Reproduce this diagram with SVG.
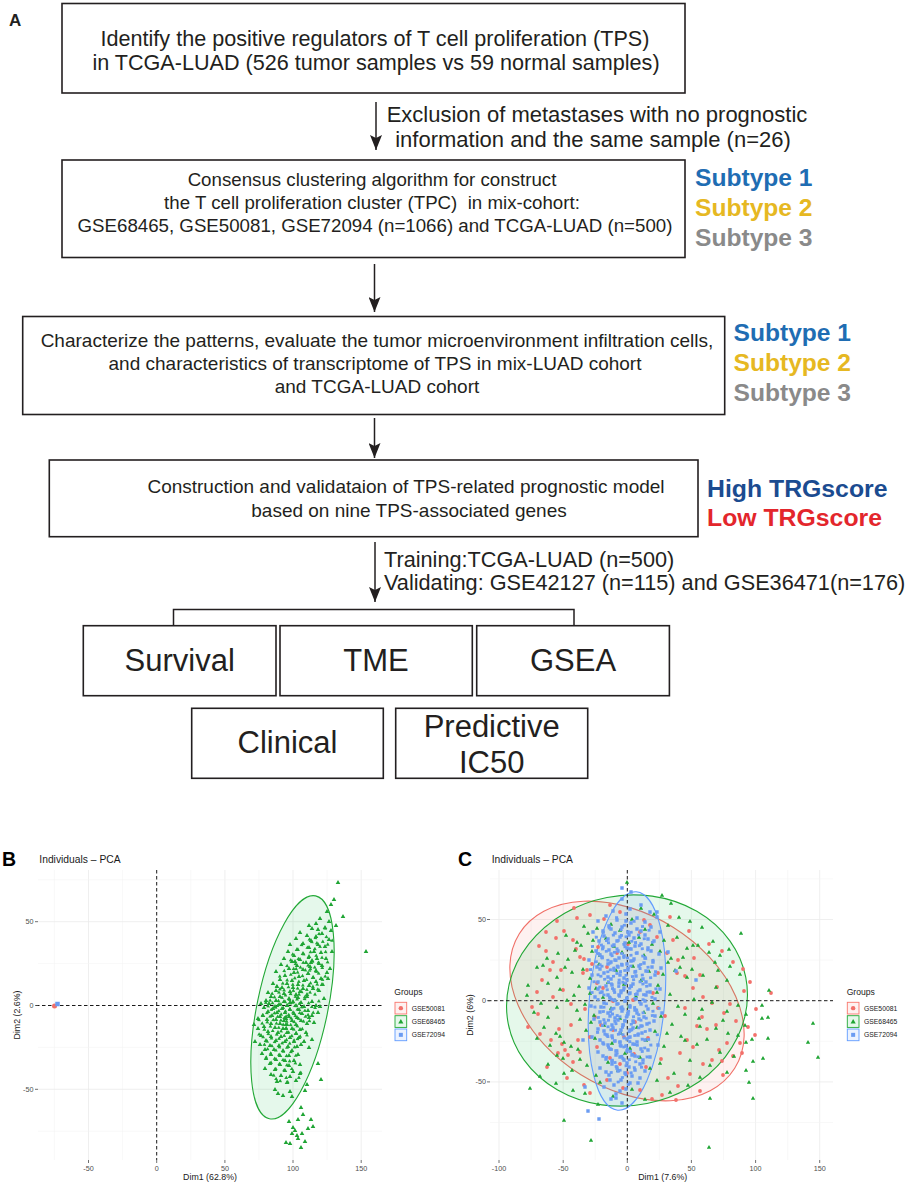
<svg xmlns="http://www.w3.org/2000/svg" xmlns:xlink="http://www.w3.org/1999/xlink" width="913" height="1183" viewBox="0 0 913 1183">
<defs>
<marker id="ah" viewBox="0 0 15 12" refX="15" refY="6" markerWidth="15" markerHeight="12" markerUnits="userSpaceOnUse" orient="auto"><path d="M0 0L15 6L0 12L3 6z" fill="#231f20"/></marker>
</defs>
<style>
.box{fill:#fff;stroke:#231f20;stroke-width:1.6}
.t{font-family:"Liberation Sans",Arial,sans-serif;fill:#231f20}
.b{font-weight:bold}
.conn{fill:none;stroke:#231f20;stroke-width:1.5}
.gM{stroke:#ebebeb;stroke-width:.8}
.gm{stroke:#f3f3f3;stroke-width:.6}
.dash{fill:none;stroke:#1a1a1a;stroke-width:1;stroke-dasharray:3.5 2.5}
.tk{font-family:"Liberation Sans",Arial,sans-serif;font-size:7.2px;fill:#4d4d4d}
.ax{font-family:"Liberation Sans",Arial,sans-serif;font-size:8.8px;fill:#1a1a1a}
.ttl{font-family:"Liberation Sans",Arial,sans-serif;font-size:10.3px;fill:#1a1a1a}
.lg{font-family:"Liberation Sans",Arial,sans-serif;font-size:6.8px;fill:#1a1a1a}
.tm{stroke:#4d4d4d;stroke-width:.8}
.tg{fill:#1fa534}
.pr{fill:none;stroke:#f2706a;stroke-width:3.8;stroke-linecap:round}
.pb{fill:none;stroke:#6b9cf2;stroke-width:3.4;stroke-linecap:square}
</style>
<rect width="913" height="1183" fill="#fff"/>

<!-- Panel A -->
<text class="t b" x="9" y="26" font-size="17">A</text>

<g id="connectors">
<line class="conn" x1="376" y1="102" x2="376" y2="150" marker-end="url(#ah)"/>
<line class="conn" x1="374.5" y1="264" x2="374.5" y2="312" marker-end="url(#ah)"/>
<line class="conn" x1="374.5" y1="418" x2="374.5" y2="458" marker-end="url(#ah)"/>
<line class="conn" x1="375" y1="542" x2="375" y2="602" marker-end="url(#ah)"/>
<path class="conn" d="M173.5 626V609.5H574V626"/>
<text class="t" font-size="22" text-anchor="middle"><tspan x="597" y="122">Exclusion of metastases with no prognostic</tspan><tspan x="593" y="147">information and the same sample (n=26)</tspan></text>
<text class="t" font-size="21.7"><tspan x="384" y="567">Training:TCGA-LUAD (n=500)</tspan><tspan x="384" y="590">Validating: GSE42127 (n=115) and GSE36471(n=176)</tspan></text>
</g>

<g id="n1">
<rect class="box" x="62" y="3.5" width="623" height="89.5"/>
<text class="t" font-size="21.6" text-anchor="middle"><tspan x="375" y="46">Identify the positive regulators of T cell proliferation (TPS)</tspan><tspan x="376" y="69.5">in TCGA-LUAD (526 tumor samples vs 59 normal samples)</tspan></text>
</g>

<g id="n2">
<rect class="box" x="62" y="160" width="623" height="97.5"/>
<text class="t" font-size="18.7" text-anchor="middle" style="white-space:pre"><tspan x="372" y="186">Consensus clustering algorithm for construct</tspan><tspan x="372" y="209">the T cell proliferation cluster (TPC)  in mix-cohort:</tspan><tspan x="375" y="232">GSE68465, GSE50081, GSE72094 (n=1066) and TCGA-LUAD (n=500)</tspan></text>
</g>

<g id="subtypes1">
<text class="t b" font-size="24.6" x="695" y="186" style="fill:#1f6db3">Subtype 1</text>
<text class="t b" font-size="24.6" x="695" y="216" style="fill:#e6b822">Subtype 2</text>
<text class="t b" font-size="24.6" x="695" y="246" style="fill:#8a8a8a">Subtype 3</text>
</g>

<g id="n3">
<rect class="box" x="22.7" y="316.5" width="702" height="98"/>
<text class="t" font-size="19" text-anchor="middle"><tspan x="377" y="347">Characterize the patterns, evaluate the tumor microenvironment infiltration cells,</tspan><tspan x="375" y="370">and characteristics of transcriptome of TPS in mix-LUAD cohort</tspan><tspan x="377" y="393">and TCGA-LUAD cohort</tspan></text>
</g>

<g id="subtypes2">
<text class="t b" font-size="24.6" x="733.5" y="341" style="fill:#1f6db3">Subtype 1</text>
<text class="t b" font-size="24.6" x="733.5" y="371" style="fill:#e6b822">Subtype 2</text>
<text class="t b" font-size="24.6" x="733.5" y="401" style="fill:#8a8a8a">Subtype 3</text>
</g>

<g id="n4">
<rect class="box" x="49.3" y="460" width="648.7" height="76.7"/>
<text class="t" font-size="19" text-anchor="middle"><tspan x="406" y="493.3">Construction and validataion of TPS-related prognostic model</tspan><tspan x="409" y="516.7">based on nine TPS-associated genes</tspan></text>
</g>

<g id="scores">
<text class="t b" font-size="24.8" x="707" y="497" style="fill:#1b4b90">High TRGscore</text>
<text class="t b" font-size="24.8" x="707" y="526" style="fill:#e3262c">Low TRGscore</text>
</g>

<g id="n5"><rect class="box" x="83.3" y="625.7" width="192.7" height="70"/><text class="t" font-size="31" text-anchor="middle" x="179.7" y="671">Survival</text></g>
<g id="n6"><rect class="box" x="280" y="625.7" width="192.3" height="70"/><text class="t" font-size="31" text-anchor="middle" x="376" y="671">TME</text></g>
<g id="n7"><rect class="box" x="476.7" y="625.7" width="192.7" height="70"/><text class="t" font-size="31" text-anchor="middle" x="573" y="671">GSEA</text></g>
<g id="n8"><rect class="box" x="191.7" y="708.3" width="191.6" height="70"/><text class="t" font-size="31" text-anchor="middle" x="287.5" y="753">Clinical</text></g>
<g id="n9"><rect class="box" x="395.7" y="708.3" width="192" height="70"/><text class="t" font-size="31" text-anchor="middle"><tspan x="491.7" y="737">Predictive</tspan><tspan x="491.7" y="773">IC50</tspan></text></g>

<!-- Panel B -->
<g id="panelB">
<text class="t b" x="2" y="866" font-size="19.5" style="fill:#000">B</text>
<text class="ttl" x="39.3" y="862.7">Individuals – PCA</text>
<g>
<line class="gm" x1="54.4" y1="870" x2="54.4" y2="1160"/><line class="gM" x1="88.5" y1="870" x2="88.5" y2="1160"/><line class="gm" x1="122.6" y1="870" x2="122.6" y2="1160"/><line class="gm" x1="190.8" y1="870" x2="190.8" y2="1160"/><line class="gM" x1="224.9" y1="870" x2="224.9" y2="1160"/><line class="gm" x1="259" y1="870" x2="259" y2="1160"/><line class="gM" x1="293" y1="870" x2="293" y2="1160"/><line class="gm" x1="327.1" y1="870" x2="327.1" y2="1160"/><line class="gM" x1="361.2" y1="870" x2="361.2" y2="1160"/>
<line class="gm" x1="38" y1="879.8" x2="382" y2="879.8"/><line class="gM" x1="38" y1="921.7" x2="382" y2="921.7"/><line class="gm" x1="38" y1="963.6" x2="382" y2="963.6"/><line class="gm" x1="38" y1="1047.4" x2="382" y2="1047.4"/><line class="gM" x1="38" y1="1089.3" x2="382" y2="1089.3"/><line class="gm" x1="38" y1="1131.2" x2="382" y2="1131.2"/>
</g>
<ellipse cx="292.5" cy="1007.3" rx="35.4" ry="113.8" transform="rotate(11.7 292.5 1007.3)" fill="#00ba38" fill-opacity=".1" stroke="#22a836" stroke-width="1.1"/>
<line class="dash" x1="156.7" y1="870" x2="156.7" y2="1160"/>
<line class="dash" x1="36" y1="1005.5" x2="382" y2="1005.5"/>
<path class="tg" d="M338 880l2.3 4h-4.6zM334 897l2.3 4h-4.6zM331 902l2.3 4h-4.6zM343 914l2.3 4h-4.6zM366 949l2.3 4h-4.6zM321 1077l2.3 4h-4.6zM318 1061l2.3 4h-4.6z"/>
<path id="bt" class="tg" d="M327 909l2.3 4h-4.6zM320 916l2.3 4h-4.6zM316 921l2.3 4h-4.6zM329 919l2.3 4h-4.6zM312 926l2.3 4h-4.6zM325 925l2.3 4h-4.6zM336 923l2.3 4h-4.6zM309 923l2.3 4h-4.6zM331 928l2.3 4h-4.6zM318 927l2.3 4h-4.6zM300 930l2.3 4h-4.6zM307 933l2.3 4h-4.6zM316 934l2.3 4h-4.6zM322 931l2.3 4h-4.6zM296 936l2.3 4h-4.6zM311 938l2.3 4h-4.6zM329 937l2.3 4h-4.6zM303 941l2.3 4h-4.6zM290 942l2.3 4h-4.6zM318 942l2.3 4h-4.6zM325 944l2.3 4h-4.6zM309 945l2.3 4h-4.6zM297 947l2.3 4h-4.6zM314 949l2.3 4h-4.6zM288 949l2.3 4h-4.6zM303 951l2.3 4h-4.6zM321 950l2.3 4h-4.6zM332 949l2.3 4h-4.6zM294 953l2.3 4h-4.6zM309 954l2.3 4h-4.6zM317 956l2.3 4h-4.6zM284 956l2.3 4h-4.6zM300 957l2.3 4h-4.6zM326 956l2.3 4h-4.6zM312 958l2.3 4h-4.6zM292 959l2.3 4h-4.6zM306 960l2.3 4h-4.6zM319 961l2.3 4h-4.6zM281 962l2.3 4h-4.6zM297 963l2.3 4h-4.6zM310 964l2.3 4h-4.6zM322 963l2.3 4h-4.6zM289 966l2.3 4h-4.6zM303 967l2.3 4h-4.6zM316 968l2.3 4h-4.6zM276 969l2.3 4h-4.6zM294 970l2.3 4h-4.6zM308 971l2.3 4h-4.6zM327 970l2.3 4h-4.6zM285 973l2.3 4h-4.6zM299 974l2.3 4h-4.6zM313 975l2.3 4h-4.6zM321 976l2.3 4h-4.6zM280 977l2.3 4h-4.6zM292 978l2.3 4h-4.6zM304 978l2.3 4h-4.6zM316 979l2.3 4h-4.6zM273 981l2.3 4h-4.6zM287 981l2.3 4h-4.6zM298 982l2.3 4h-4.6zM309 983l2.3 4h-4.6zM322 982l2.3 4h-4.6zM282 985l2.3 4h-4.6zM293 985l2.3 4h-4.6zM303 986l2.3 4h-4.6zM313 986l2.3 4h-4.6zM276 988l2.3 4h-4.6zM290 989l2.3 4h-4.6zM300 989l2.3 4h-4.6zM319 988l2.3 4h-4.6zM284 991l2.3 4h-4.6zM296 992l2.3 4h-4.6zM307 992l2.3 4h-4.6zM328 976l2.3 4h-4.6zM330 966l2.3 4h-4.6zM311 960l2.3 4h-4.6zM295 959l2.3 4h-4.6zM277 984l2.3 4h-4.6zM268 990l2.3 4h-4.6zM271 994l2.3 4h-4.6zM280 994l2.3 4h-4.6zM289 996l2.3 4h-4.6zM298 995l2.3 4h-4.6zM307 994l2.3 4h-4.6zM266 998l2.3 4h-4.6zM276 998l2.3 4h-4.6zM284 999l2.3 4h-4.6zM293 999l2.3 4h-4.6zM301 1000l2.3 4h-4.6zM312 999l2.3 4h-4.6zM269 1001l2.3 4h-4.6zM279 1002l2.3 4h-4.6zM287 1003l2.3 4h-4.6zM296 1003l2.3 4h-4.6zM304 1004l2.3 4h-4.6zM316 1003l2.3 4h-4.6zM264 1005l2.3 4h-4.6zM273 1006l2.3 4h-4.6zM282 1006l2.3 4h-4.6zM290 1007l2.3 4h-4.6zM299 1007l2.3 4h-4.6zM308 1008l2.3 4h-4.6zM268 1009l2.3 4h-4.6zM277 1010l2.3 4h-4.6zM285 1010l2.3 4h-4.6zM294 1011l2.3 4h-4.6zM302 1011l2.3 4h-4.6zM263 1013l2.3 4h-4.6zM272 1013l2.3 4h-4.6zM280 1014l2.3 4h-4.6zM289 1014l2.3 4h-4.6zM297 1015l2.3 4h-4.6zM312 1013l2.3 4h-4.6zM267 1017l2.3 4h-4.6zM276 1017l2.3 4h-4.6zM284 1018l2.3 4h-4.6zM292 1018l2.3 4h-4.6zM301 1018l2.3 4h-4.6zM320 1004l2.3 4h-4.6zM324 996l2.3 4h-4.6zM261 1001l2.3 4h-4.6zM271 1021l2.3 4h-4.6zM280 1021l2.3 4h-4.6zM287 1022l2.3 4h-4.6zM296 1022l2.3 4h-4.6zM307 1021l2.3 4h-4.6zM314 1020l2.3 4h-4.6zM309 1015l2.3 4h-4.6zM318 1010l2.3 4h-4.6zM290 1000l2.3 4h-4.6zM275 1004l2.3 4h-4.6zM286 1016l2.3 4h-4.6zM258 1016l2.3 4h-4.6zM254 1022l2.3 4h-4.6zM264 1024l2.3 4h-4.6zM275 1025l2.3 4h-4.6zM283 1026l2.3 4h-4.6zM292 1026l2.3 4h-4.6zM300 1027l2.3 4h-4.6zM268 1029l2.3 4h-4.6zM278 1030l2.3 4h-4.6zM287 1030l2.3 4h-4.6zM296 1031l2.3 4h-4.6zM306 1030l2.3 4h-4.6zM261 1033l2.3 4h-4.6zM271 1034l2.3 4h-4.6zM281 1034l2.3 4h-4.6zM290 1035l2.3 4h-4.6zM299 1035l2.3 4h-4.6zM266 1038l2.3 4h-4.6zM276 1038l2.3 4h-4.6zM285 1039l2.3 4h-4.6zM294 1039l2.3 4h-4.6zM304 1039l2.3 4h-4.6zM260 1042l2.3 4h-4.6zM270 1043l2.3 4h-4.6zM279 1043l2.3 4h-4.6zM288 1044l2.3 4h-4.6zM297 1044l2.3 4h-4.6zM265 1047l2.3 4h-4.6zM274 1047l2.3 4h-4.6zM283 1048l2.3 4h-4.6zM292 1048l2.3 4h-4.6zM309 1045l2.3 4h-4.6zM312 1037l2.3 4h-4.6zM258 1026l2.3 4h-4.6zM301 1042l2.3 4h-4.6zM286 1026l2.3 4h-4.6zM255 1039l2.3 4h-4.6zM262 1051l2.3 4h-4.6zM271 1052l2.3 4h-4.6zM280 1053l2.3 4h-4.6zM289 1053l2.3 4h-4.6zM298 1052l2.3 4h-4.6zM266 1056l2.3 4h-4.6zM276 1057l2.3 4h-4.6zM285 1058l2.3 4h-4.6zM294 1058l2.3 4h-4.6zM270 1061l2.3 4h-4.6zM280 1062l2.3 4h-4.6zM289 1063l2.3 4h-4.6zM300 1062l2.3 4h-4.6zM265 1066l2.3 4h-4.6zM275 1067l2.3 4h-4.6zM285 1068l2.3 4h-4.6zM293 1069l2.3 4h-4.6zM271 1072l2.3 4h-4.6zM281 1073l2.3 4h-4.6zM290 1074l2.3 4h-4.6zM300 1071l2.3 4h-4.6zM277 1079l2.3 4h-4.6zM287 1080l2.3 4h-4.6zM296 1078l2.3 4h-4.6zM275 1087l2.3 4h-4.6zM290 1089l2.3 4h-4.6zM305 1088l2.3 4h-4.6zM307 1082l2.3 4h-4.6zM292 1094l2.3 4h-4.6zM283 1093l2.3 4h-4.6zM278 1091l2.3 4h-4.6z"/>
<use xlink:href="#bt" href="#bt" transform="translate(290 1006) rotate(3) scale(.84) translate(-290 -1006)"/>
<path class="tg" d="M301 1105l2.3 4h-4.6zM303 1112l2.3 4h-4.6zM298 1117l2.3 4h-4.6zM311 1117l2.3 4h-4.6zM313 1124l2.3 4h-4.6zM293 1125l2.3 4h-4.6zM295 1128l2.3 4h-4.6zM292 1131l2.3 4h-4.6zM297 1133l2.3 4h-4.6zM302 1131l2.3 4h-4.6zM298 1136l2.3 4h-4.6zM286 1140l2.3 4h-4.6zM301 1145l2.3 4h-4.6zM308 1126l2.3 4h-4.6zM290 1141l2.3 4h-4.6zM305 1139l2.3 4h-4.6zM289 1119l2.3 4h-4.6z"/>
<path class="pr" d="M54.5 1006h0" style="stroke-width:5"/>
<path class="pb" d="M57.5 1004h0" style="stroke-width:4.5"/>
<g class="tk" text-anchor="end"><text x="33.5" y="924.2">50</text><text x="33.5" y="1008">0</text><text x="33.5" y="1091.8">-50</text></g>
<line class="tm" x1="35" y1="921.7" x2="38" y2="921.7"/><line class="tm" x1="35" y1="1005.5" x2="38" y2="1005.5"/><line class="tm" x1="35" y1="1089.3" x2="38" y2="1089.3"/>
<line class="tm" x1="88.5" y1="1160" x2="88.5" y2="1163"/><line class="tm" x1="156.7" y1="1160" x2="156.7" y2="1163"/><line class="tm" x1="224.9" y1="1160" x2="224.9" y2="1163"/><line class="tm" x1="293" y1="1160" x2="293" y2="1163"/><line class="tm" x1="361.2" y1="1160" x2="361.2" y2="1163"/>
<g class="tk" text-anchor="middle"><text x="88.5" y="1171">-50</text><text x="156.7" y="1171">0</text><text x="224.9" y="1171">50</text><text x="293" y="1171">100</text><text x="361.2" y="1171">150</text></g>
<text class="ax" x="210" y="1180" text-anchor="middle">Dim1 (62.8%)</text>
<text class="ax" transform="translate(20 1015) rotate(-90)" text-anchor="middle">Dim2 (2.6%)</text>
<g id="legendB">
<text class="ax" x="394.3" y="995" style="font-size:8.6px">Groups</text>
<rect x="395" y="1002.3" width="11.7" height="11.7" fill="#f8766d" fill-opacity=".1" stroke="#f8766d" stroke-width=".9"/>
<rect x="395" y="1015.7" width="11.7" height="11.7" fill="#00ba38" fill-opacity=".1" stroke="#22a836" stroke-width=".9"/>
<rect x="395" y="1029" width="11.7" height="11.7" fill="#619cff" fill-opacity=".12" stroke="#619cff" stroke-width=".9"/>
<circle cx="400.85" cy="1008.15" r="2.2" fill="#f2706a"/>
<path class="tg" d="M400.85 1019l2.6 4.5h-5.2z"/>
<rect x="398.85" y="1032.85" width="4" height="4" fill="#6b9cf2"/>
<text class="lg" x="411.7" y="1010.5">GSE50081</text>
<text class="lg" x="411.7" y="1023.9">GSE68465</text>
<text class="lg" x="411.7" y="1037.2">GSE72094</text>
</g>
</g>

<!-- Panel C -->
<g id="panelC">
<text class="t b" x="458" y="866" font-size="19.5" style="fill:#000">C</text>
<text class="ttl" x="491.7" y="862.7">Individuals – PCA</text>
<g>
<line class="gM" x1="499" y1="870" x2="499" y2="1160"/><line class="gm" x1="531.1" y1="870" x2="531.1" y2="1160"/><line class="gM" x1="563.2" y1="870" x2="563.2" y2="1160"/><line class="gm" x1="595.2" y1="870" x2="595.2" y2="1160"/><line class="gm" x1="659.4" y1="870" x2="659.4" y2="1160"/><line class="gM" x1="691.4" y1="870" x2="691.4" y2="1160"/><line class="gm" x1="723.5" y1="870" x2="723.5" y2="1160"/><line class="gM" x1="755.6" y1="870" x2="755.6" y2="1160"/><line class="gm" x1="787.7" y1="870" x2="787.7" y2="1160"/><line class="gM" x1="819.7" y1="870" x2="819.7" y2="1160"/>
<line class="gm" x1="490" y1="878.9" x2="833" y2="878.9"/><line class="gM" x1="490" y1="919.5" x2="833" y2="919.5"/><line class="gm" x1="490" y1="960.1" x2="833" y2="960.1"/><line class="gm" x1="490" y1="1041.3" x2="833" y2="1041.3"/><line class="gM" x1="490" y1="1081.9" x2="833" y2="1081.9"/><line class="gm" x1="490" y1="1122.5" x2="833" y2="1122.5"/>
</g>
<ellipse cx="627" cy="1001" rx="127" ry="87" transform="rotate(32 627 1001)" fill="#f8766d" fill-opacity=".1" stroke="#f07068" stroke-width="1.1"/>
<ellipse cx="627" cy="1000.5" rx="121" ry="105" transform="rotate(-11 627 1000.5)" fill="#00ba38" fill-opacity=".1" stroke="#22a836" stroke-width="1.1"/>
<ellipse cx="627" cy="1001" rx="37.7" ry="109.6" transform="rotate(4.9 627 1001)" fill="#619cff" fill-opacity=".12" stroke="#619cff" stroke-width="1.1"/>
<line class="dash" x1="627.3" y1="870" x2="627.3" y2="1160"/>
<line class="dash" x1="488" y1="1000.7" x2="833" y2="1000.7"/>
<path class="pr" d="M546 932h0M556 938h0M564 931h0M577 918h0M573 940h0M539 946h0M546 951h0M553 962h0M550 970h0M561 970h0M576 949h0M580 957h0M584 959h0M587 970h0M583 973h0M592 964h0M532 1007h0M538 1014h0M540 1034h0M558 1053h0M565 1050h0M568 1055h0M573 1062h0M580 1052h0M584 1085h0M590 1037h0M601 1025h0M613 1030h0M627 1073h0M640 1090h0M652 1099h0M700 1091h0M723 1075h0M733 1056h0M727 1043h0M719 1050h0M707 1029h0M702 1017h0M697 1026h0M687 1040h0M680 1053h0M693 1047h0M685 1008h0M703 997h0M712 1003h0M717 987h0M685 976h0M700 975h0M693 988h0M677 973h0M743 969h0M771 993h0M650 925h0M644 920h0M640 932h0M657 937h0M673 940h0M678 960h0M667 953h0M658 973h0M653 993h0M633 1000h0M613 1001h0M603 988h0M597 983h0M607 967h0M617 953h0M628 944h0M598 947h0M604 919h0M590 915h0M563 990h0M553 997h0M571 1004h0M585 1009h0M595 1017h0M571 1025h0M559 1029h0M551 1040h0M562 1044h0M578 1040h0M597 1047h0M610 1058h0M620 1064h0M634 1054h0M646 1067h0M661 1059h0M668 1078h0M678 1086h0M690 1074h0M703 1064h0M712 1060h0M722 1061h0M740 1043h0M748 1027h0M736 1021h0M724 1013h0M716 1025h0M730 1004h0M744 991h0M756 1009h0M750 982h0M733 962h0M722 951h0M709 944h0M694 958h0M689 931h0M670 917h0M620 912h0M610 905h0M574 908h0M557 921h0M542 980h0M537 992h0M528 1027h0M547 1067h0M567 1078h0M590 1093h0M607 1080h0M623 1088h0M662 1095h0M676 1100h0M742 1053h0M755 1035h0M665 1016h0M648 1038h0M635 1022h0M624 1037h0M658 1008h0"/>
<path class="tg" d="M627 880l2.2 3.8h-4.4zM662 893l2.2 3.8h-4.4zM671 901l2.2 3.8h-4.4zM641 906l2.2 3.8h-4.4zM654 912l2.2 3.8h-4.4zM679 915l2.2 3.8h-4.4zM690 919l2.2 3.8h-4.4zM611 922l2.2 3.8h-4.4zM597 926l2.2 3.8h-4.4zM584 924l2.2 3.8h-4.4zM632 917l2.2 3.8h-4.4zM668 923l2.2 3.8h-4.4zM702 925l2.2 3.8h-4.4zM588 931l2.2 3.8h-4.4zM620 928l2.2 3.8h-4.4zM645 927l2.2 3.8h-4.4zM741 931l2.2 3.8h-4.4zM566 933l2.2 3.8h-4.4zM577 940l2.2 3.8h-4.4zM575 948l2.2 3.8h-4.4zM581 943l2.2 3.8h-4.4zM593 938l2.2 3.8h-4.4zM606 936l2.2 3.8h-4.4zM614 944l2.2 3.8h-4.4zM629 940l2.2 3.8h-4.4zM639 935l2.2 3.8h-4.4zM652 942l2.2 3.8h-4.4zM664 938l2.2 3.8h-4.4zM677 935l2.2 3.8h-4.4zM687 946l2.2 3.8h-4.4zM693 943l2.2 3.8h-4.4zM698 943l2.2 3.8h-4.4zM709 950l2.2 3.8h-4.4zM720 953l2.2 3.8h-4.4zM547 956l2.2 3.8h-4.4zM558 951l2.2 3.8h-4.4zM600 953l2.2 3.8h-4.4zM622 950l2.2 3.8h-4.4zM644 953l2.2 3.8h-4.4zM660 949l2.2 3.8h-4.4zM671 956l2.2 3.8h-4.4zM683 955l2.2 3.8h-4.4zM592 949l2.2 3.8h-4.4zM568 957l2.2 3.8h-4.4zM713 939l2.2 3.8h-4.4zM729 947l2.2 3.8h-4.4zM537 965l2.2 3.8h-4.4zM543 963l2.2 3.8h-4.4zM565 965l2.2 3.8h-4.4zM557 975l2.2 3.8h-4.4zM560 987l2.2 3.8h-4.4zM572 970l2.2 3.8h-4.4zM583 967l2.2 3.8h-4.4zM590 976l2.2 3.8h-4.4zM599 962l2.2 3.8h-4.4zM608 980l2.2 3.8h-4.4zM616 968l2.2 3.8h-4.4zM633 964l2.2 3.8h-4.4zM641 978l2.2 3.8h-4.4zM649 969l2.2 3.8h-4.4zM658 983l2.2 3.8h-4.4zM668 960l2.2 3.8h-4.4zM675 968l2.2 3.8h-4.4zM680 965l2.2 3.8h-4.4zM687 975l2.2 3.8h-4.4zM692 967l2.2 3.8h-4.4zM715 960l2.2 3.8h-4.4zM718 968l2.2 3.8h-4.4zM727 978l2.2 3.8h-4.4zM730 964l2.2 3.8h-4.4zM716 985l2.2 3.8h-4.4zM548 981l2.2 3.8h-4.4zM528 983l2.2 3.8h-4.4zM579 984l2.2 3.8h-4.4zM703 973l2.2 3.8h-4.4zM740 972l2.2 3.8h-4.4zM624 982l2.2 3.8h-4.4zM596 986l2.2 3.8h-4.4zM663 972l2.2 3.8h-4.4zM567 998l2.2 3.8h-4.4zM557 1005l2.2 3.8h-4.4zM574 993l2.2 3.8h-4.4zM541 1001l2.2 3.8h-4.4zM534 1010l2.2 3.8h-4.4zM548 1015l2.2 3.8h-4.4zM577 1008l2.2 3.8h-4.4zM585 1002l2.2 3.8h-4.4zM594 1013l2.2 3.8h-4.4zM603 995l2.2 3.8h-4.4zM611 1006l2.2 3.8h-4.4zM620 1016l2.2 3.8h-4.4zM636 994l2.2 3.8h-4.4zM644 1010l2.2 3.8h-4.4zM653 1001l2.2 3.8h-4.4zM661 1014l2.2 3.8h-4.4zM670 992l2.2 3.8h-4.4zM678 1004l2.2 3.8h-4.4zM685 1012l2.2 3.8h-4.4zM694 997l2.2 3.8h-4.4zM702 1007l2.2 3.8h-4.4zM712 1000l2.2 3.8h-4.4zM727 1009l2.2 3.8h-4.4zM723 1018l2.2 3.8h-4.4zM738 1003l2.2 3.8h-4.4zM746 1012l2.2 3.8h-4.4zM769 988l2.2 3.8h-4.4zM762 1003l2.2 3.8h-4.4zM762 1016l2.2 3.8h-4.4zM768 1015l2.2 3.8h-4.4zM527 993l2.2 3.8h-4.4zM590 991l2.2 3.8h-4.4zM629 1004l2.2 3.8h-4.4zM657 990l2.2 3.8h-4.4zM699 1016l2.2 3.8h-4.4zM580 1017l2.2 3.8h-4.4zM615 998l2.2 3.8h-4.4zM556 1031l2.2 3.8h-4.4zM560 1034l2.2 3.8h-4.4zM564 1040l2.2 3.8h-4.4zM571 1044l2.2 3.8h-4.4zM578 1047l2.2 3.8h-4.4zM544 1025l2.2 3.8h-4.4zM537 1036l2.2 3.8h-4.4zM550 1043l2.2 3.8h-4.4zM586 1028l2.2 3.8h-4.4zM595 1036l2.2 3.8h-4.4zM604 1023l2.2 3.8h-4.4zM612 1041l2.2 3.8h-4.4zM621 1031l2.2 3.8h-4.4zM637 1025l2.2 3.8h-4.4zM646 1038l2.2 3.8h-4.4zM655 1029l2.2 3.8h-4.4zM664 1044l2.2 3.8h-4.4zM672 1022l2.2 3.8h-4.4zM681 1034l2.2 3.8h-4.4zM685 1038l2.2 3.8h-4.4zM697 1042l2.2 3.8h-4.4zM707 1037l2.2 3.8h-4.4zM716 1026l2.2 3.8h-4.4zM728 1031l2.2 3.8h-4.4zM738 1033l2.2 3.8h-4.4zM746 1040l2.2 3.8h-4.4zM752 1037l2.2 3.8h-4.4zM768 1036l2.2 3.8h-4.4zM808 1040l2.2 3.8h-4.4zM813 1021l2.2 3.8h-4.4zM818 1055l2.2 3.8h-4.4zM591 1020l2.2 3.8h-4.4zM630 1046l2.2 3.8h-4.4zM667 1031l2.2 3.8h-4.4zM700 1024l2.2 3.8h-4.4zM745 1023l2.2 3.8h-4.4zM557 1053l2.2 3.8h-4.4zM563 1056l2.2 3.8h-4.4zM572 1068l2.2 3.8h-4.4zM587 1063l2.2 3.8h-4.4zM548 1062l2.2 3.8h-4.4zM556 1081l2.2 3.8h-4.4zM564 1071l2.2 3.8h-4.4zM580 1057l2.2 3.8h-4.4zM596 1073l2.2 3.8h-4.4zM608 1060l2.2 3.8h-4.4zM618 1068l2.2 3.8h-4.4zM640 1055l2.2 3.8h-4.4zM650 1066l2.2 3.8h-4.4zM660 1061l2.2 3.8h-4.4zM674 1071l2.2 3.8h-4.4zM690 1058l2.2 3.8h-4.4zM710 1063l2.2 3.8h-4.4zM727 1070l2.2 3.8h-4.4zM734 1054l2.2 3.8h-4.4zM753 1059l2.2 3.8h-4.4zM763 1056l2.2 3.8h-4.4zM746 1068l2.2 3.8h-4.4zM749 1080l2.2 3.8h-4.4zM720 1050l2.2 3.8h-4.4zM700 1075l2.2 3.8h-4.4zM540 1074l2.2 3.8h-4.4zM625 1051l2.2 3.8h-4.4zM573 1088l2.2 3.8h-4.4zM585 1091l2.2 3.8h-4.4zM598 1102l2.2 3.8h-4.4zM600 1080l2.2 3.8h-4.4zM613 1094l2.2 3.8h-4.4zM632 1087l2.2 3.8h-4.4zM657 1078l2.2 3.8h-4.4zM645 1097l2.2 3.8h-4.4zM670 1090l2.2 3.8h-4.4zM688 1083l2.2 3.8h-4.4zM710 1096l2.2 3.8h-4.4zM753 1096l2.2 3.8h-4.4zM564 1118l2.2 3.8h-4.4zM591 1138l2.2 3.8h-4.4zM709 1145l2.2 3.8h-4.4zM530 1086l2.2 3.8h-4.4z"/>
<path id="cb" class="pb" d="M622 899h0M641 905h0M630 909h0M613 911h0M650 912h0M606 916h0M626 914h0M637 918h0M657 917h0M598 921h0M617 920h0M631 923h0M645 922h0M609 926h0M622 927h0M651 927h0M637 929h0M593 932h0M603 931h0M615 933h0M628 932h0M660 932h0M645 935h0M620 937h0M608 939h0M599 941h0M634 938h0M654 941h0M625 943h0M614 945h0M641 944h0M603 947h0M631 949h0M648 948h0M596 951h0M618 951h0M611 954h0M637 953h0M659 954h0M624 956h0M602 957h0M645 958h0M589 960h0M615 960h0M631 961h0M653 962h0M608 964h0M622 965h0M639 966h0M597 967h0M661 968h0M614 970h0M628 970h0M646 971h0M604 973h0M592 975h0M620 975h0M636 976h0M655 975h0M611 979h0M627 980h0M643 979h0M598 982h0M619 983h0M633 984h0M606 986h0M650 985h0M624 988h0M589 988h0M614 990h0M640 990h0M660 989h0M602 992h0M630 993h0M619 995h0M646 995h0M595 997h0M610 998h0M636 999h0M625 1001h0M655 999h0M604 1003h0M617 1004h0M641 1004h0M591 1006h0M630 1007h0M612 1009h0M648 1009h0M622 1011h0M600 1012h0M637 1013h0M662 1013h0M610 1016h0M627 1016h0M644 1017h0M594 1019h0M618 1020h0M633 1021h0M654 1021h0M605 1023h0M623 1025h0M641 1026h0M613 1028h0M598 1029h0M630 1030h0M650 1030h0M620 1033h0M607 1035h0M638 1035h0M592 1037h0M627 1039h0M615 1041h0M645 1040h0M603 1043h0M633 1044h0M621 1046h0M658 1045h0M610 1049h0M641 1049h0M627 1051h0M598 1052h0M616 1055h0M635 1056h0M650 1057h0M606 1059h0M624 1060h0M612 1064h0M640 1064h0M629 1067h0M600 1068h0M618 1071h0M645 1071h0M609 1075h0M632 1076h0M621 1080h0M614 1085h0M638 1083h0M604 1087h0M626 1089h0M616 1094h0M611 1099h0M622 1103h0M626 921h0M611 929h0M641 931h0M604 936h0M629 935h0M648 939h0M617 941h0M635 946h0M609 950h0M627 948h0M651 951h0M600 955h0M619 958h0M634 959h0M611 962h0M644 963h0M627 964h0M600 969h0M618 967h0M652 967h0M635 972h0M608 977h0M624 978h0M646 982h0M631 986h0M612 985h0M598 989h0M621 991h0M650 992h0M637 994h0M608 995h0M627 998h0M614 1000h0M645 1001h0M601 1007h0M621 1008h0M635 1010h0M608 1013h0M628 1014h0M655 1016h0M615 1018h0M639 1019h0M600 1022h0M625 1021h0M612 1025h0M647 1024h0M633 1028h0M604 1031h0M621 1030h0M642 1033h0M612 1036h0M630 1037h0M600 1040h0M620 1042h0M637 1042h0M608 1045h0M626 1046h0M648 1050h0M616 1051h0M603 1056h0M632 1055h0M620 1057h0M643 1060h0M612 1061h0M627 1063h0M617 1068h0M635 1070h0M606 1072h0M625 1073h0M640 1078h0M610 1080h0M630 1083h0M620 1091h0"/>
<use xlink:href="#cb" href="#cb" transform="translate(626 1000) rotate(-4) scale(.9 .82) translate(-626 -1000)"/>
<path class="pb" d="M588 1111h0M599 1119h0M622 888h0M631 892h0M657 912h0M696 980h0M585 1087h0M676 971h0M668 952h0M583 1040h0M616 1098h0"/>
<g class="tk" text-anchor="end"><text x="486" y="922">50</text><text x="486" y="1003.2">0</text><text x="486" y="1084.4">-50</text></g>
<line class="tm" x1="487" y1="919.5" x2="490" y2="919.5"/><line class="tm" x1="487" y1="1000.7" x2="490" y2="1000.7"/><line class="tm" x1="487" y1="1081.9" x2="490" y2="1081.9"/>
<line class="tm" x1="499" y1="1160" x2="499" y2="1163"/><line class="tm" x1="563.2" y1="1160" x2="563.2" y2="1163"/><line class="tm" x1="627.3" y1="1160" x2="627.3" y2="1163"/><line class="tm" x1="691.4" y1="1160" x2="691.4" y2="1163"/><line class="tm" x1="755.6" y1="1160" x2="755.6" y2="1163"/><line class="tm" x1="819.7" y1="1160" x2="819.7" y2="1163"/>
<g class="tk" text-anchor="middle"><text x="499" y="1171">-100</text><text x="563.2" y="1171">-50</text><text x="627.3" y="1171">0</text><text x="691.4" y="1171">50</text><text x="755.6" y="1171">100</text><text x="819.7" y="1171">150</text></g>
<text class="ax" x="662.7" y="1180" text-anchor="middle">Dim1 (7.6%)</text>
<text class="ax" transform="translate(472.5 1015) rotate(-90)" text-anchor="middle">Dim2 (6%)</text>
<g id="legendC">
<text class="ax" x="846.7" y="995" style="font-size:8.6px">Groups</text>
<rect x="847.3" y="1002.3" width="11.7" height="11.7" fill="#f8766d" fill-opacity=".1" stroke="#f8766d" stroke-width=".9"/>
<rect x="847.3" y="1015.7" width="11.7" height="11.7" fill="#00ba38" fill-opacity=".1" stroke="#22a836" stroke-width=".9"/>
<rect x="847.3" y="1029" width="11.7" height="11.7" fill="#619cff" fill-opacity=".12" stroke="#619cff" stroke-width=".9"/>
<circle cx="853.15" cy="1008.15" r="2.2" fill="#f2706a"/>
<path class="tg" d="M853.15 1019l2.6 4.5h-5.2z"/>
<rect x="851.15" y="1032.85" width="4" height="4" fill="#6b9cf2"/>
<text class="lg" x="864" y="1010.5">GSE50081</text>
<text class="lg" x="864" y="1023.9">GSE68465</text>
<text class="lg" x="864" y="1037.2">GSE72094</text>
</g>
</g>
</svg>
